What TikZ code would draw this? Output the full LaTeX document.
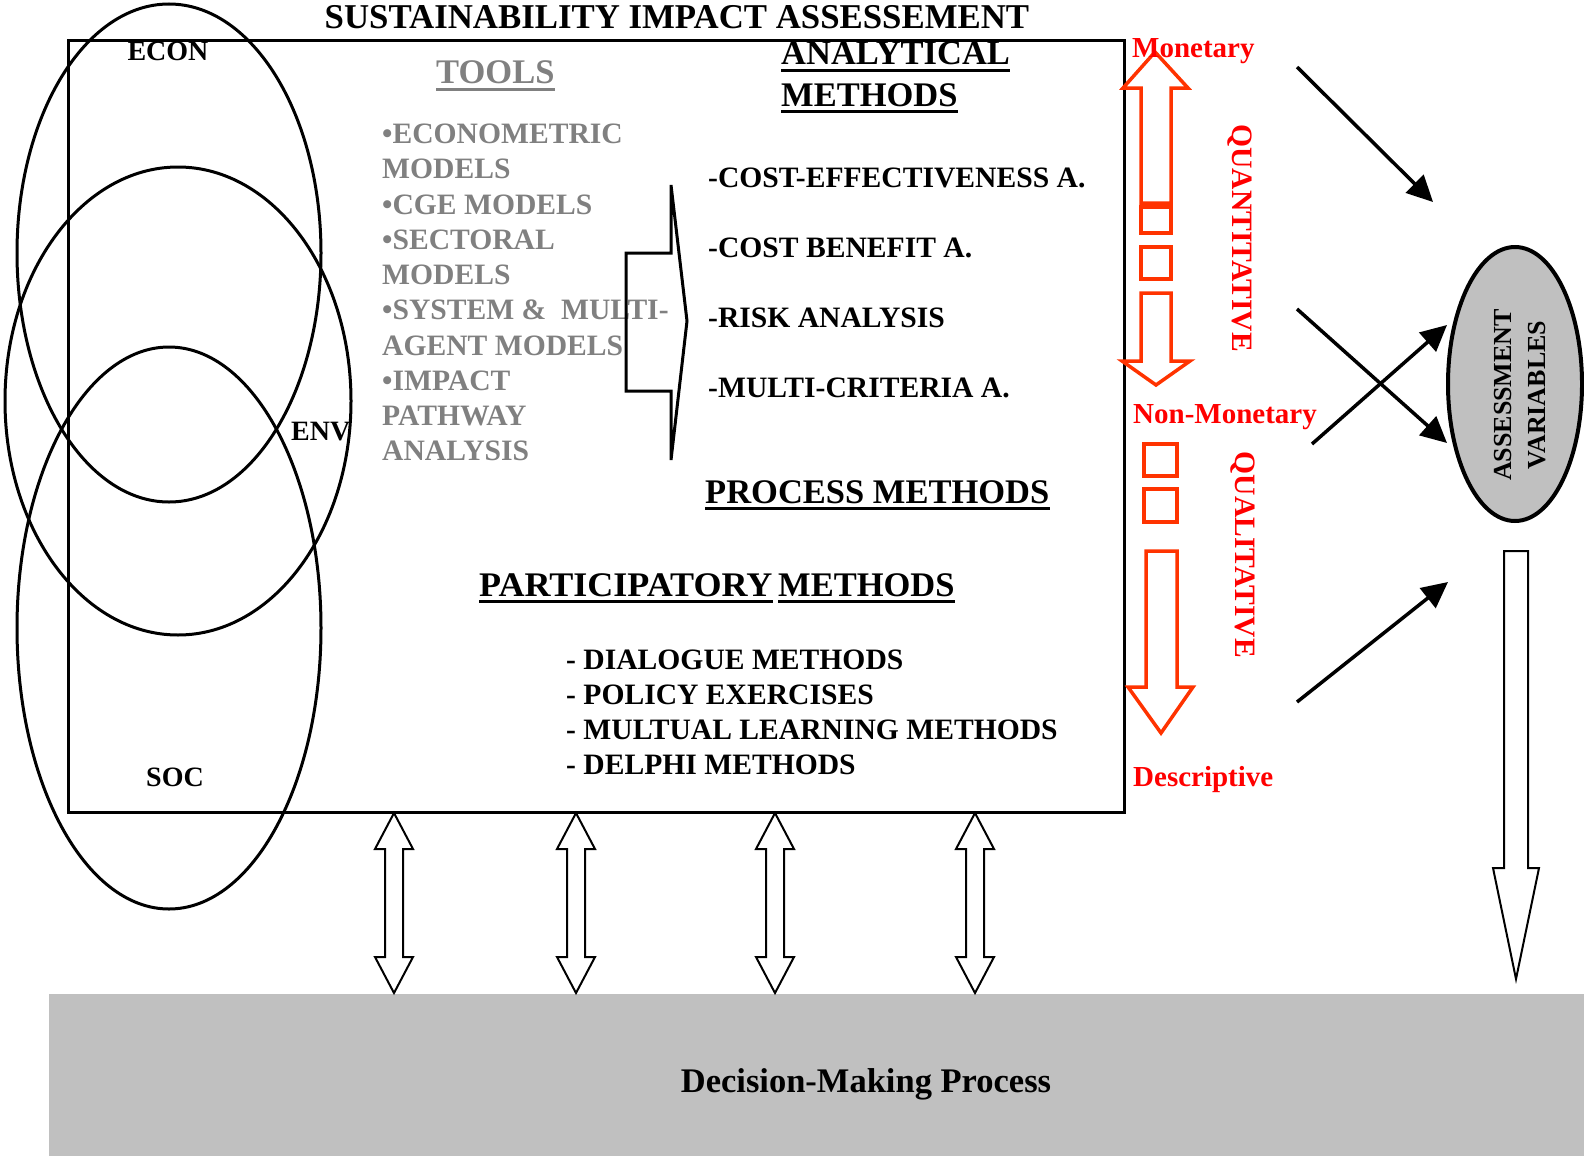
\documentclass[tikz,border=0pt]{standalone}
\usepackage{fontspec}
\setmainfont{Liberation Serif}
\usetikzlibrary{arrows.meta,calc,shapes.geometric}
\definecolor{redtxt}{RGB}{255,0,0}
\definecolor{redarr}{RGB}{255,51,0}
\definecolor{graytxt}{RGB}{128,128,128}
\definecolor{boxgray}{RGB}{192,192,192}
\newcommand\myul[2][black]{\draw[#1,line width=3pt] ($(#2.base west)+(0,5.5)$) -- ($(#2.base east)+(0,5.5)$);}
\begin{document}
\begin{tikzpicture}[x=1pt,y=-1pt,
  txt/.style={inner sep=0pt, font=\bfseries\fontsize{29.6}{35}\selectfont, anchor=base west},
  hd/.style={inner sep=0pt, font=\bfseries\fontsize{34.5}{40}\selectfont, anchor=base west},
  lbl/.style={inner sep=0pt, font=\bfseries\fontsize{28}{34}\selectfont, anchor=base},
  redlbl/.style={txt, text=redtxt, font=\bfseries\fontsize{29}{35}\selectfont},
  tool/.style={txt, text=graytxt},
  venn/.style={draw, line width=3pt},
  redshape/.style={draw=redarr, line width=3.5pt, line join=miter},
  blkarrow/.style={line width=3.5pt, -{Triangle[length=26pt,width=25pt]}},
  dblarrow/.pic={\draw[line width=2pt, fill=white, line join=miter]
      (-19,36) -- (0,0) -- (19,36) -- (9,36) -- (9,144) -- (19,144) -- (0,180)
      -- (-19,144) -- (-9,144) -- (-9,36) -- cycle;}
]
\useasboundingbox (0,0) rectangle (1584,1156);

% decision box
\fill[boxgray] (49,994) rectangle (1584,1156);
\node[hd, anchor=base] (dmp) at (866,1092) {Decision-Making Process};

% double arrows
\pic at (394,813) {dblarrow};
\pic at (576,813) {dblarrow};
\pic at (775,813) {dblarrow};
\pic at (975,813) {dblarrow};

% main frame
\draw[line width=3pt] (68,41) rectangle (1124,812);

% venn ellipses
\draw[venn] (169,253) ellipse [x radius=152, y radius=249];
\draw[venn] (178,401) ellipse [x radius=173, y radius=234];
\draw[venn] (169,628) ellipse [x radius=152, y radius=281];
\node[lbl] (econ) at (168,60) {ECON};
\node[lbl, anchor=base west] (env) at (291,440) {ENV};
\node[lbl] (soc) at (175,786) {SOC};

% title
\node[hd, anchor=base, font=\bfseries\fontsize{34.8}{40}\selectfont] (title) at (677,28.5) {SUSTAINABILITY IMPACT ASSESSEMENT};

% tools
\node[hd, text=graytxt] (tools) at (436,84) {TOOLS};
\myul[graytxt]{tools}
\node[tool] (t1) at (382,143.5) {•ECONOMETRIC};
\node[tool] (t2) at (382,178.75) {MODELS};
\node[tool] (t3) at (382,214) {•CGE MODELS};
\node[tool] (t4) at (382,249.25) {•SECTORAL};
\node[tool] (t5) at (382,284.5) {MODELS};
\node[tool] (t6) at (382,319.75) {•SYSTEM \& ~MULTI-};
\node[tool] (t7) at (382,355) {AGENT MODELS};
\node[tool] (t8) at (382,390.25) {•IMPACT};
\node[tool] (t9) at (382,425.5) {PATHWAY};
\node[tool] (t10) at (382,460.75) {ANALYSIS};

% notched arrow
\draw[line width=3pt, line join=miter] (671,185) -- (687,321) -- (671,460) -- (671,391)
  -- (626,391) -- (626,253) -- (671,253) -- cycle;

% analytical methods
\node[hd] (am1) at (781,65) {ANALYTICAL};
\myul{am1}
\node[hd] (am2) at (781,106) {METHODS};
\myul{am2}
\node[txt] (m1) at (708,187) {-COST-EFFECTIVENESS A.};
\node[txt] (m2) at (708,257) {-COST BENEFIT A.};
\node[txt] (m3) at (708,327) {-RISK ANALYSIS};
\node[txt] (m4) at (708,397) {-MULTI-CRITERIA A.};

\node[hd] (pm) at (705,503) {PROCESS METHODS};
\myul{pm}

\node[hd] (pa) at (479,596) {\scalebox{1.045}[1]{PARTICIPATORY}};
\myul{pa}
\node[hd] (pb) at (778,596) {METHODS};
\myul{pb}
\node[txt] (p1) at (566,669) {- DIALOGUE METHODS};
\node[txt] (p2) at (566,704) {- POLICY EXERCISES};
\node[txt] (p3) at (566,739) {- MULTUAL LEARNING METHODS};
\node[txt] (p4) at (566,774) {- DELPHI METHODS};

% red scale
\draw[redshape] (1141,203) -- (1141,88) -- (1123,88) -- (1155,52) -- (1188,88) -- (1171,88) -- (1171,203) -- cycle;
\draw[redshape] (1141,207) rectangle (1171,233);
\draw[redshape] (1141,247) rectangle (1171,279);
\draw[redshape] (1141,293) -- (1171,293) -- (1171,361) -- (1190,361) -- (1156,385) -- (1122,361) -- (1141,361) -- cycle;
\draw[redshape] (1144,444) rectangle (1177,476);
\draw[redshape] (1144,489) rectangle (1177,522);
\draw[redshape] (1146,551) -- (1177,551) -- (1177,687) -- (1193,687) -- (1161,733) -- (1128,687) -- (1146,687) -- cycle;

\node[redlbl] (mon) at (1132,58) {Monetary};
\node[redlbl] (nmon) at (1133,423) {Non-Monetary};
\node[redlbl] (desc) at (1133,786) {Descriptive};
\node[txt, text=redtxt, anchor=center, rotate=-90] (quant) at (1240,238) {QUANTITATIVE};
\node[txt, text=redtxt, anchor=center, rotate=-90] (qual) at (1243,555) {QUALITATIVE};

% assessment variables
\node[ellipse, draw, line width=4pt, fill=boxgray, minimum width=134pt, minimum height=274pt, inner sep=0pt] (av) at (1515,384) {};
\node[inner sep=0pt, rotate=90, align=center, font=\bfseries\fontsize{26}{34}\selectfont] (avt) at (1520,395) {ASSESSMENT\\VARIABLES};

% black arrows
\coordinate (a1s) at (1297,67);   \coordinate (a1e) at (1433,202);
\coordinate (a2s) at (1297,309);  \coordinate (a2e) at (1447,443);
\coordinate (a3s) at (1312,444);  \coordinate (a3e) at (1447,325);
\coordinate (a4s) at (1297,702);  \coordinate (a4e) at (1448,582);
\draw[blkarrow] (a1s) -- (a1e);
\draw[blkarrow] (a2s) -- (a2e);
\draw[blkarrow] (a3s) -- (a3e);
\draw[blkarrow] (a4s) -- (a4e);

% big down arrow
\draw[line width=2pt, line join=miter] (1504,551) -- (1528,551) -- (1528,868) -- (1539,868)
  -- (1516,979) -- (1493,868) -- (1504,868) -- cycle;
\end{tikzpicture}
\end{document}
